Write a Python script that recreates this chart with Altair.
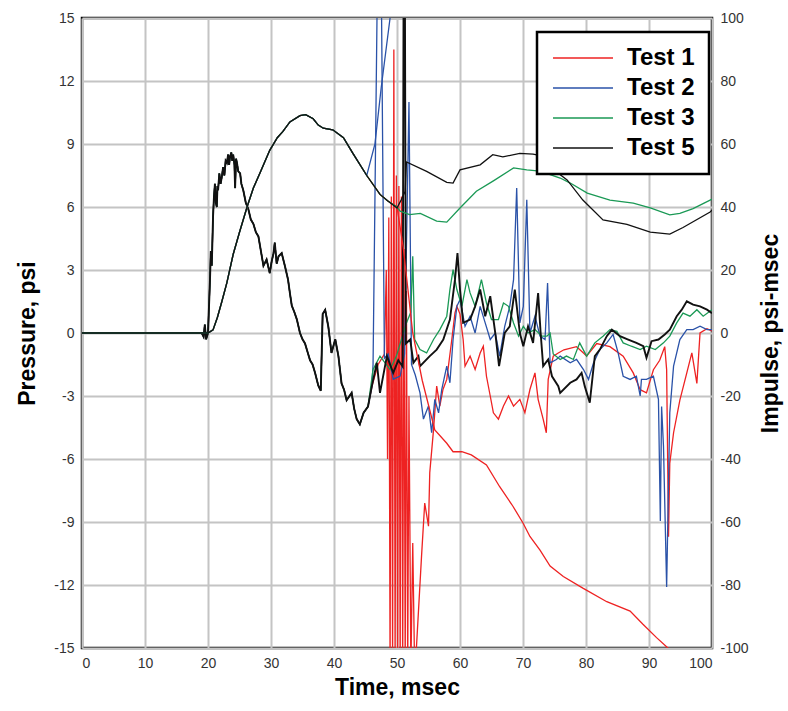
import altair as alt
import pandas as pd

TESTS = ["Test 1", "Test 2", "Test 3", "Test 5"]
COLORS = ["#ee2222", "#2a52a8", "#1a9955", "#111111"]

# ---- pressure (psi), shared early part of all four records ----
head_t = [0, 19.0, 19.3, 19.5, 19.7, 20.0, 20.3, 20.45, 20.6, 20.8, 20.95, 21.1, 21.25, 21.4, 21.5,
          21.6, 21.8, 22.0, 22.2, 22.4, 22.6, 22.8, 23.0, 23.2, 23.35, 23.5, 23.7, 23.85, 24.0,
          24.2, 24.3, 24.45, 24.6, 24.8, 25.1, 25.3, 25.6, 26.0, 26.4, 26.8, 27.2, 27.6, 28.0,
          28.4, 28.8, 29.3, 29.8, 30.1, 30.4, 30.6, 30.9, 31.2, 31.7, 32.2, 32.7, 33.0, 33.3,
          33.7, 34.1, 34.6, 35.0, 35.4, 35.8, 36.2, 36.6, 37.0, 37.5, 37.9, 38.2, 38.6, 39.1,
          39.6, 40.2, 40.7, 41.2, 41.6, 42.0, 42.8, 43.2, 43.6, 44.1, 44.7, 45.4]
head_p = [0, 0, -0.18, 0.4, -0.3, 0, 2.4, 3.9, 3.2, 5.55, 6.5, 7.1, 6.2, 6.0, 7.0,
          6.8, 7.6, 7.1, 7.45, 7.9, 7.5, 8.2, 8.1, 8.5, 8.0, 8.4, 8.6, 8.2, 8.5,
          8.0, 6.9, 8.3, 8.1, 7.7, 7.6, 7.1, 6.8, 6.2, 5.9, 5.4, 5.2, 4.8, 4.6,
          3.9, 3.2, 3.5, 2.85, 3.4, 3.8, 4.3, 3.3, 3.65, 3.8, 3.2, 2.55, 1.9, 1.3,
          1.0, 0.65, 0.0, -0.3, -0.5, -0.9, -1.3, -1.5, -1.9, -2.5, -2.75, 0.9, 1.1, 0.3,
          -0.95, -0.3, -1.1, -2.4, -2.7, -3.2, -2.85, -3.6, -4.1, -4.35, -3.8, -3.5]

# ---- pressure (psi), individual later parts ----
t1_t = [46.0, 47.0, 48.0, 48.3, 48.5, 48.7, 48.9, 49.1, 49.3, 49.5, 49.7, 49.9, 50.1, 50.3, 50.5,
        50.7, 50.9, 51.1, 51.3, 51.5, 51.7, 51.9, 52.2, 52.5, 52.8, 53.1, 53.9, 54.4, 55.0, 55.2,
        55.8, 56.3, 56.8, 57.3, 57.9, 58.7, 59.2, 59.5, 60.0, 60.5, 60.8, 61.6, 62.4, 63.2, 63.7,
        64.2, 64.8, 65.3, 66.1, 66.9, 67.7, 68.5, 69.5, 70.3, 71.1, 71.9, 72.4, 73.2, 73.7, 74.0,
        74.8, 75.6, 76.5, 78.5, 79.6, 80.1, 81.7, 83.8, 85.9, 87.5, 88.6, 89.6, 90.7, 91.7, 92.5,
        92.8, 93.1, 93.3, 93.9, 94.9, 96.0, 96.8, 97.6, 98.1, 99.2, 100.0]
t1_p = [-2.55, -1.5, -1.0, 3.0, -6.0, 5.5, -16, 6.5, -16, 13.5, -16, 7.5, -16, 7.0, -16,
        6.5, -16, 4.0, -16, 2.0, -16, -3.0, -16, -10.0, -16, -14.9, -10.6, -8.1, -9.2, -6.65,
        -4.6, -2.53, -3.48, -2.69, -2.21, -0.31, 0.96, 1.27, 0.9, -0.31, -1.58, -1.1, -1.74, -0.95, -0.63,
        -2.06, -3.0, -3.8, -4.1, -3.48, -3.0, -3.48, -3.16, -3.8, -2.69, -1.9, -3.16, -4.1, -4.75, -2.21,
        -1.1, -0.95, -0.8, -0.65, -0.95, -1.1, -0.5, -0.65, -1.1, -1.9, -2.7, -2.85, -1.75, -1.3, -0.65,
        -1.75, -9.7, -6.2, -4.75, -3.2, -1.9, -0.95, -2.4, 0.0, 0.2, 0.1]

t2_t = [46.0, 46.2, 46.9, 47.5, 48.0, 48.6, 49.4, 50.5, 51.2, 51.9, 52.3, 52.9, 53.65, 54.2, 55.0,
        55.5, 56.0, 56.6, 57.1, 57.9, 58.4, 58.9, 59.5, 60.0, 60.8, 61.6, 62.4, 63.2, 64.0, 64.8,
        65.6, 66.3, 67.1, 67.9, 68.5, 69.0, 69.5, 70.05, 70.6, 71.1, 71.9, 72.7, 73.5, 73.9, 74.3,
        75.3, 75.9, 77.5, 78.5, 79.6, 80.4, 81.2, 82.2, 83.3, 84.3, 85.1, 85.9, 87.0, 88.0, 88.6,
        88.8, 89.6, 90.7, 91.5, 91.8, 92.0, 92.3, 92.8, 93.3, 93.9, 94.9, 96.0, 97.0, 98.1, 99.2, 100.0]
t2_p = [-2.55, -1.5, 17, 17, -1.2, -1.0, -2.2, -2.05, -1.0, 11.0, -1.5, -2.0, -2.85, -4.1, -3.48,
        -4.75, -3.16, -3.8, -2.69, -1.58, -2.37, -0.31, 1.27, 1.59, 0.32, 0.8, 0.0, 1.27, 0.48, -0.31,
        0.0, -1.1, 0.32, 1.27, 2.54, 6.9, 0.48, 1.27, 6.35, 0.0, 0.8, -0.15, -0.31, 2.38, -1.42,
        -1.26, -1.1, -1.42, -1.26, -1.74, -2.21, -1.42, -0.79, -0.47, -0.07, -0.95, -2.06, -2.21, -2.06, -3.0,
        -2.21, -2.21, -2.06, -3.16, -8.95, -3.5, -5.4, -12.1, -3.8, -1.58, -0.31, 0.16, 0.16, 0.32, 0.16, 0.16]

t3_t = [46.2, 47.3, 48.9, 49.9, 51.5, 52.2, 52.5, 52.8, 53.65, 54.7, 55.8, 56.8, 57.9, 58.4, 58.9,
        59.5, 60.3, 61.1, 61.6, 62.4, 63.4, 64.2, 65.0, 66.1, 66.9, 67.7, 68.5, 69.3, 70.05, 70.8,
        71.9, 73.0, 73.8, 74.3, 74.8, 75.9, 76.9, 78.0, 79.0, 80.1, 81.4, 82.7, 83.8, 84.9, 85.9,
        87.2, 88.6, 89.6, 91.0, 92.3, 93.3, 94.4, 95.4, 96.5, 97.6, 98.6, 100.0]
t3_p = [-1.74, -1.1, -1.74, -1.1, 0.48, 1.0, 3.65, -0.3, -0.79, -0.95, -0.31, 0.16, 0.8, 2.07, 3.02,
        2.07, 1.27, 2.54, 1.91, 1.27, 2.54, 1.43, 0.64, 0.64, 1.43, 1.27, 0.48, -0.15, 0.32, 0.0,
        0.16, -0.15, -0.15, 0.0, -1.0, -1.26, -1.1, -1.26, -0.47, -1.1, -0.47, -0.15, 0.16, 0.08, -0.47,
        -0.63, -0.79, -0.63, -0.79, -0.47, -0.15, 0.48, 0.95, 0.8, 1.11, 0.8, 1.11]

t5_t = [46.0, 46.8, 47.3, 48.4, 49.4, 50.2, 50.9, 51.05, 51.25, 51.4, 52.1, 52.6, 53.4, 53.65, 55.2,
        56.3, 57.35, 58.4, 59.2, 59.6, 60.0, 60.5, 61.6, 62.4, 63.2, 64.0, 64.8, 65.6, 66.2, 67.1,
        67.9, 68.7, 69.5, 70.05, 70.8, 71.6, 72.4, 72.8, 73.2, 74.0, 74.6, 75.6, 75.9, 77.5, 78.5,
        79.3, 79.8, 80.6, 81.4, 82.2, 83.3, 84.1, 85.4, 86.7, 88.0, 89.1, 89.6, 90.4, 91.5, 92.5,
        93.3, 94.4, 95.2, 96.0, 97.0, 98.1, 99.2, 100.0]
t5_p = [-2.55, -1.42, -2.85, -1.1, -1.9, -1.3, -1.6, 17, 17, -0.5, -0.31, -1.42, -1.1, -1.58, -1.1,
        -0.79, -0.31, 0.64, 2.54, 3.81, 2.07, 0.48, 0.64, 1.27, 2.07, 0.8, 1.75, 0.0, -1.58, 0.0,
        0.32, 2.07, 0.0, -0.63, 0.32, -0.47, 1.9, 0.0, -1.58, -1.26, -2.06, -2.53, -2.85, -2.37, -2.21,
        -1.9, -2.53, -3.32, -1.1, -0.79, -0.15, 0.16, -0.15, -0.31, -0.47, -0.63, -1.18, -0.39, -0.31, -0.07,
        0.16, 0.8, 1.11, 1.51, 1.35, 1.27, 1.11, 0.94]

# ---- impulse (psi-msec) ----
imp_head_t = [0, 20.0, 20.8, 21.5, 22.2, 23.0, 24.0, 25.0, 26.2, 27.2, 28.3, 29.8, 31.0, 31.9, 33.0,
              34.6, 35.5, 36.7, 37.5, 38.3, 39.8, 41.5, 43.0, 45.2]
imp_head_v = [0, 0, 1, 5, 10, 16, 25, 32, 40, 46, 51, 58, 62, 64, 67,
              69, 69.3, 68, 66, 65, 64.5, 62, 57, 50]

i1_t = [47.3, 48.5, 50.0, 51.0, 52.5, 54.0, 56.0, 57.9, 58.9, 60.3, 61.8, 64.2, 66.3, 68.4, 70.0,
        71.1, 72.7, 74.3, 76.4, 79.5, 83.3, 87.0, 89.0, 91.2, 93.0, 94.0]
i1_v = [44, 42, 40, 27, 0, -15, -30.8, -35, -37.7, -37.7, -38.7, -41.9, -48.8, -55, -60.3,
        -64.6, -68.9, -74, -77.3, -81, -85.3, -88.3, -92.4, -96.7, -100, -103]

i2_t = [46.5, 47.5, 48.9, 49.5]
i2_v = [60, 78, 100, 115]

i3_t = [47.3, 48.5, 50.0, 50.5, 52.0, 53.7, 56.3, 57.9, 60.0, 62.6, 65.3, 68.5, 70.6, 72.7, 75.9,
        77.5, 80.2, 83.8, 87.5, 90.2, 93.3, 94.9, 97.0, 99.7, 100.0]
i3_v = [44, 42, 40, 38.7, 37.6, 38, 35.5, 35.2, 39.7, 45, 48.3, 52.4, 51.8, 51.4, 49.2,
        47.6, 44.4, 42.2, 41.2, 39.7, 37.5, 38, 39.5, 42.2, 42.5]

i5_t = [47.3, 48.5, 50.0, 50.7, 51.3, 51.5, 54.7, 57.9, 58.9, 60.0, 63.2, 65.2, 66.8, 69.5, 71.6,
        73.5, 75.4, 77.0, 79.5, 82.7, 86.5, 90.2, 93.3, 95.4, 99.7, 100.0]
i5_v = [44, 42, 39.7, 42.4, 45, 54.3, 51.3, 47.8, 47.6, 51.8, 53.4, 56.6, 55.9, 57, 56.8,
        56, 51, 48.6, 42.2, 35.9, 34.5, 32, 31.4, 33.5, 38.4, 39]

p_rows = []
for name, tt, pp in [("Test 1", t1_t, t1_p), ("Test 2", t2_t, t2_p),
                     ("Test 3", t3_t, t3_p), ("Test 5", t5_t, t5_p)]:
    for a, b in zip(head_t + tt, head_p + pp):
        p_rows.append({"t": a, "v": b, "test": name})
pdf = pd.DataFrame(p_rows)

i_rows = []
for name, tt, vv in [("Test 1", i1_t, i1_v), ("Test 2", i2_t, i2_v),
                     ("Test 3", i3_t, i3_v), ("Test 5", i5_t, i5_v)]:
    for a, b in zip(imp_head_t + tt, imp_head_v + vv):
        i_rows.append({"t": a, "v": b, "test": name})
idf = pd.DataFrame(i_rows)

FONT = "Liberation Sans"

color = alt.Color(
    "test:N",
    scale=alt.Scale(domain=TESTS, range=COLORS),
    legend=alt.Legend(
        title=None, orient="none", legendX=455, legendY=14,
        fillColor="white", strokeColor="black", padding=14,
        symbolType="M-1,0H5", symbolSize=400, symbolStrokeWidth=1.5,
        labelFont=FONT, labelFontSize=24, labelFontWeight="bold", labelColor="black",
        labelOffset=52, rowPadding=6, labelLimit=200,
    ),
)

xenc = alt.X(
    "t:Q",
    scale=alt.Scale(domain=[0, 100], nice=False),
    axis=alt.Axis(
        title="Time, msec", values=list(range(0, 101, 10)),
        grid=True, gridColor="#c4c4c4", gridWidth=2, ticks=False, domain=False,
        labelFont=FONT, labelFontSize=14, labelColor="#333333", labelPadding=8,
        titleFont=FONT, titleFontSize=23, titleFontWeight="bold", titleColor="black",
        titlePadding=6,
    ),
)

pressure = alt.Chart(pdf).mark_line(clip=True).encode(
    x=xenc,
    y=alt.Y(
        "v:Q",
        scale=alt.Scale(domain=[-15, 15], nice=False),
        axis=alt.Axis(
            title="Pressure, psi", values=list(range(-15, 16, 3)), orient="left",
            grid=True, gridColor="#c4c4c4", gridWidth=2, ticks=False, domain=False,
            labelExpr="'' + datum.value",
            labelFont=FONT, labelFontSize=14, labelColor="#333333", labelPadding=8,
            titleFont=FONT, titleFontSize=23, titleFontWeight="bold", titleColor="black",
            titlePadding=14,
        ),
    ),
    color=color,
    strokeWidth=alt.condition(alt.datum.test == "Test 5", alt.value(1.9), alt.value(1.3)),
    order=alt.Order("t:Q"),
)

impulse = alt.Chart(idf).mark_line(clip=True, strokeWidth=1.3).encode(
    x=alt.X("t:Q", scale=alt.Scale(domain=[0, 100], nice=False)),
    y=alt.Y(
        "v:Q",
        scale=alt.Scale(domain=[-100, 100], nice=False),
        axis=alt.Axis(
            title="Impulse, psi-msec", values=list(range(-100, 101, 20)), orient="right",
            grid=False, ticks=False, domain=False,
            labelExpr="'' + datum.value",
            labelFont=FONT, labelFontSize=14, labelColor="#333333", labelPadding=8,
            titleFont=FONT, titleFontSize=23, titleFontWeight="bold", titleColor="black",
            titlePadding=34, titleAngle=270,
        ),
    ),
    color=alt.Color("test:N", scale=alt.Scale(domain=TESTS, range=COLORS), legend=None),
    order=alt.Order("t:Q"),
)

chart = alt.layer(pressure, impulse).resolve_scale(y="independent").properties(
    width=630, height=630,
    autosize=alt.AutoSizeParams(type="none"),
    padding={"left": 82, "top": 18, "right": 76, "bottom": 63},
    background="white",
).configure_view(stroke="black", strokeWidth=2.5).configure_legend(strokeWidth=2.5)

chart.save("out.html", embed_options={"renderer": "svg", "actions": False})
